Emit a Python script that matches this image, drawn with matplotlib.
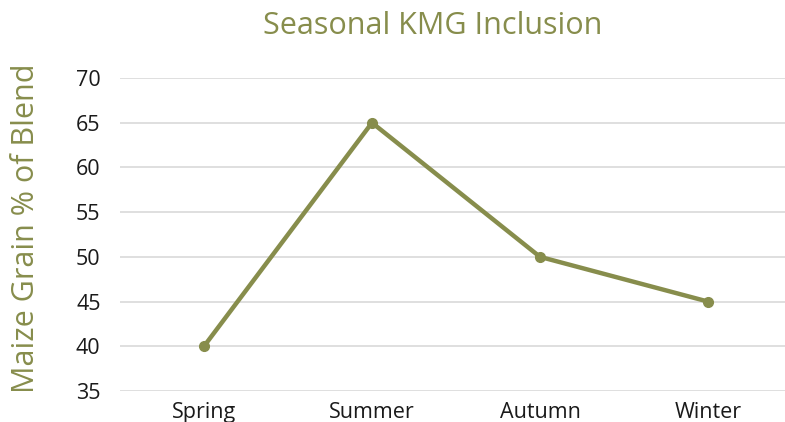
import matplotlib
matplotlib.use("Agg")
import matplotlib.pyplot as plt

seasons = ["Spring", "Summer", "Autumn", "Winter"]
maize_pct = [40, 65, 50, 45]
y_ticks = [35, 40, 45, 50, 55, 60, 65, 70]

olive = "#878D4C"

plt.rcParams['font.family'] = ['Open Sans', 'DejaVu Sans']

fig = plt.figure(figsize=(7.85, 4.22), dpi=100)
ax = fig.add_axes([120/785, 31/422, 672/785, 313/422])

ax.plot(range(len(seasons)), maize_pct, color=olive, linewidth=3.2,
        marker="o", markersize=7, solid_capstyle="round")

ax.set_xlim(-0.5, 3.5)
ax.set_ylim(35, 70)
ax.set_yticks(y_ticks)
ax.set_xticks(range(len(seasons)))
ax.set_xticklabels(seasons)
ax.grid(axis="y", color="#D9D9D9", linewidth=1.2)
ax.set_axisbelow(True)
for s in ax.spines.values():
    s.set_visible(False)
ax.tick_params(axis="both", length=0, labelsize=15.5, colors="#1A1A1A")
ax.tick_params(axis="y", pad=14)
ax.tick_params(axis="x", pad=8)

ax.set_ylabel("Maize Grain % of Blend", fontsize=22, color=olive)
ax.yaxis.set_label_coords(-0.118, 0.52)
fig.text(433/785, 1 - 26/422, "Seasonal KMG Inclusion", fontsize=22,
         color=olive, ha="center", va="center")

fig.savefig("out.png", dpi=100)
